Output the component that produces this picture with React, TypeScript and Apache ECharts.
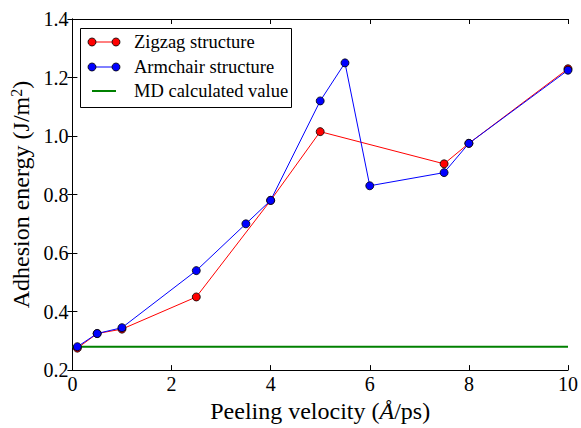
import React, { useEffect, useRef } from "react";
import * as echarts from "echarts";

const zigzagX = [0.1, 0.5, 1.0, 2.5, 4.0, 5.0, 7.5, 8.0, 10.0];
const zigzagY = [0.275, 0.325, 0.34, 0.45, 0.78, 1.015, 0.905, 0.975, 1.23];
const armchairX = [0.1, 0.5, 1.0, 2.5, 3.5, 4.0, 5.0, 5.5, 6.0, 7.5, 8.0, 10.0];
const armchairY = [0.28, 0.325, 0.345, 0.54, 0.70, 0.78, 1.12, 1.25, 0.83, 0.875, 0.975, 1.225];
const mdX = [0, 10];
const mdValue = 0.28;
const seriesNames = ["Zigzag structure", "Armchair structure", "MD calculated value"];

const FONT = "'Liberation Serif', 'Times New Roman', serif";

export default function App() {
  const ref = useRef<HTMLDivElement>(null);
  useEffect(() => {
    const chart = echarts.init(ref.current!, null, { renderer: "svg" });
    const axisCommon = {
      axisLine: { show: true, lineStyle: { color: "#000", width: 1 } },
      axisTick: { show: true, inside: true, length: 5, lineStyle: { color: "#000" } },
      splitLine: { show: false },
    };
    const legendRows = [
      { y: 42, color: "#ff0000", marker: true, name: seriesNames[0] },
      { y: 67, color: "#0000ff", marker: true, name: seriesNames[1] },
      { y: 91, color: "#008000", marker: false, name: seriesNames[2] },
    ];
    const legendEls: any[] = [
      { type: "rect", shape: { x: 80.5, y: 28.5, width: 211, height: 79 }, style: { fill: "#fff", stroke: "#000", lineWidth: 1 }, z: 100 },
    ];
    legendRows.forEach((r) => {
      legendEls.push({ type: "line", shape: { x1: 92, y1: r.y, x2: 116, y2: r.y }, style: { stroke: r.color, lineWidth: r.marker ? 1 : 2 }, z: 101 });
      if (r.marker) {
        [92, 116].forEach((cx) =>
          legendEls.push({ type: "circle", shape: { cx, cy: r.y, r: 4 }, style: { fill: r.color, stroke: "#000", lineWidth: 0.8 }, z: 102 })
        );
      }
      legendEls.push({ type: "text", x: 134, y: r.y, style: { text: r.name, fontFamily: FONT, fontSize: 18.5, fill: "#000", verticalAlign: "middle" }, z: 102 });
    });

    chart.setOption({
      animation: false,
      backgroundColor: "#fff",
      textStyle: { fontFamily: FONT },
      grid: { left: 72, right: 10, top: 19, bottom: 52, containLabel: false },
      xAxis: [
        {
          type: "value", min: 0, max: 10, interval: 2, position: "bottom",
          ...axisCommon,
          axisLabel: { color: "#000", fontFamily: FONT, fontSize: 20, margin: 4 },
          name: "Peeling velocity ({i|Å}/ps)",
          nameLocation: "middle", nameGap: 27,
          nameTextStyle: { color: "#000", fontFamily: FONT, fontSize: 24, rich: { i: { fontStyle: "italic", fontFamily: FONT, fontSize: 24 } } },
        },
        {
          type: "value", min: 0, max: 10, interval: 2, position: "top",
          ...axisCommon, axisLabel: { show: false },
        },
      ],
      yAxis: [
        {
          type: "value", min: 0.2, max: 1.4, interval: 0.2, position: "left",
          ...axisCommon,
          axisLabel: { color: "#000", fontFamily: FONT, fontSize: 20, margin: 4, formatter: (v: number) => v.toFixed(1) },
          name: "Adhesion energy (J/m{s|2})",
          nameLocation: "middle", nameGap: 38, nameRotate: 90,
          nameTextStyle: { color: "#000", fontFamily: FONT, fontSize: 24, rich: { s: { fontFamily: FONT, fontSize: 16, verticalAlign: "top", padding: [0, 0, 9, 0] } } },
        },
        {
          type: "value", min: 0.2, max: 1.4, interval: 0.2, position: "right",
          ...axisCommon, axisLabel: { show: false },
        },
      ],
      graphic: legendEls,
      series: [
        {
          name: seriesNames[2], type: "line", data: mdX.map((x) => [x, mdValue]),
          showSymbol: false, lineStyle: { color: "#008000", width: 2 }, z: 1,
        },
        {
          name: seriesNames[0], type: "line", data: zigzagX.map((x, i) => [x, zigzagY[i]]),
          symbol: "circle", symbolSize: 8,
          lineStyle: { color: "#ff0000", width: 1 },
          itemStyle: { color: "#ff0000", borderColor: "#000", borderWidth: 0.8 }, z: 2,
        },
        {
          name: seriesNames[1], type: "line", data: armchairX.map((x, i) => [x, armchairY[i]]),
          symbol: "circle", symbolSize: 8,
          lineStyle: { color: "#0000ff", width: 1 },
          itemStyle: { color: "#0000ff", borderColor: "#000", borderWidth: 0.8 }, z: 3,
        },
      ],
    });
    return () => chart.dispose();
  }, []);
  return <div ref={ref} style={{ width: 581, height: 428, position: "absolute", left: 0, top: 0 }} />;
}
